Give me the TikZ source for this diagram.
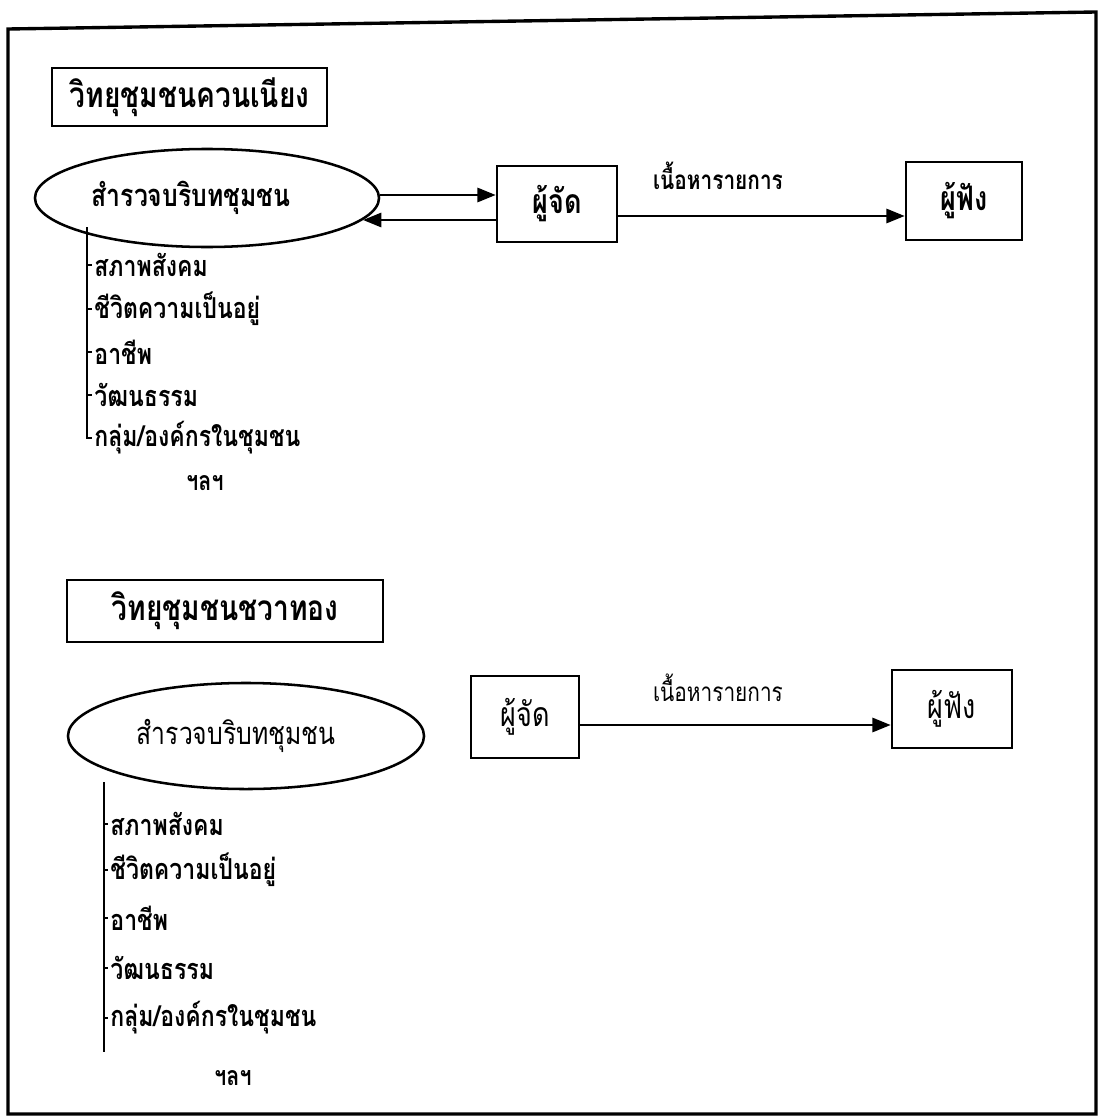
\documentclass[tikz,border=0pt]{standalone}
\usepackage{fontspec}
\setmainfont[Script=Thai, FakeStretch=0.8]{Loma}
\usetikzlibrary{shapes.geometric,arrows.meta}
\begin{document}
\begin{tikzpicture}[x=0.025cm,y=-0.025cm,
  frame/.style={line width=2.4pt},
  tbox/.style={draw, line width=1.9pt, inner sep=0pt, font=\fontsize{25}{30}\selectfont\bfseries},
  oval/.style={draw, ellipse, line width=1.8pt, inner sep=0pt},
  pbox/.style={draw, line width=1.8pt, inner sep=0pt},
  arr/.style={line width=1.9pt, -{Triangle[length=13pt,width=10pt]}},
  tree/.style={line width=1.8pt},
  item/.style={anchor=west, inner sep=1.5pt, font=\fontsize{20.5}{24}\selectfont\bfseries},
  lab/.style={inner sep=0pt}
]
\useasboundingbox (0,0) rectangle (1101,1117);
% outer frame
\draw[frame] (8,29) -- (1096,12) -- (1096,1114) -- (8,1114) -- cycle;

% ---------- upper part ----------
\node[tbox, minimum width=6.875cm, minimum height=1.45cm] (T1) at (189.5,97) {วิทยุชุมชนควนเนียง};
\node[oval, minimum width=8.6cm, minimum height=2.45cm, font=\fontsize{22}{26}\selectfont\bfseries] (E1) at (207,198) {สำรวจบริบทชุมชน\hspace*{0.8cm}};
\node[pbox, minimum width=3cm, minimum height=1.9cm, font=\fontsize{24}{28}\selectfont\bfseries] (J1) at (557,204) {ผู้จัด};
\node[pbox, minimum width=2.9cm, minimum height=1.95cm, font=\fontsize{24}{28}\selectfont\bfseries] (L1) at (964,201) {ผู้ฟัง};
\node[lab, font=\fontsize{18.5}{21}\selectfont\bfseries] (C1) at (718,176) {เนื้อหารายการ};
\draw[arr] (E1.east) ++(0,-3) coordinate (e1a) -- (e1a -| J1.west);
\coordinate (e1b) at (363,220);
\draw[arr] (J1.west |- e1b) -- (e1b);
\draw[arr] (J1.east) ++(0,12) coordinate (j1a) -- (j1a -| L1.west);

\coordinate (t1) at (87,227);
\node[item] (a1) at (92,265) {สภาพสังคม};
\node[item] (a2) at (92,309) {ชีวิตความเป็นอยู่};
\node[item] (a3) at (92,352) {อาชีพ};
\node[item] (a4) at (92,395) {วัฒนธรรม};
\node[item] (a5) at (92,438) {กลุ่ม/องค์กรในชุมชน};
\node[lab, font=\fontsize{19}{22}\selectfont\bfseries] (e1) at (205,483) {ฯลฯ};
\draw[tree] (t1) |- (a5.west);
\foreach \n in {a1,a2,a3,a4} \draw[tree] (t1 |- \n.west) -- (\n.west);

% ---------- lower part ----------
\node[tbox, minimum width=7.9cm, minimum height=1.55cm] (T2) at (225,611) {วิทยุชุมชนชวาทอง};
\node[oval, minimum width=8.9cm, minimum height=2.65cm, font=\fontsize{22}{25}\selectfont] (E2) at (246,736) {สำรวจบริบทชุมชน\hspace*{0.5cm}};
\node[pbox, minimum width=2.7cm, minimum height=2.05cm, font=\fontsize{24}{28}\selectfont] (J2) at (525,717) {ผู้จัด};
\node[pbox, minimum width=3cm, minimum height=1.95cm, font=\fontsize{24}{28}\selectfont] (L2) at (952,709) {ผู้ฟัง};
\node[lab, font=\fontsize{18.5}{21}\selectfont] (C2) at (718,688) {เนื้อหารายการ};
\draw[arr] (J2.east) ++(0,8) coordinate (j2a) -- (j2a -| L2.west);

\coordinate (t2) at (104,782);
\coordinate (t2b) at (104,1052);
\node[item] (b1) at (108,824) {สภาพสังคม};
\node[item] (b2) at (108,870) {ชีวิตความเป็นอยู่};
\node[item] (b3) at (108,918) {อาชีพ};
\node[item] (b4) at (108,968) {วัฒนธรรม};
\node[item] (b5) at (108,1018) {กลุ่ม/องค์กรในชุมชน};
\node[lab, font=\fontsize{19}{22}\selectfont\bfseries] (e2) at (233,1078) {ฯลฯ};
\draw[tree] (t2) -- (t2b);
\foreach \n in {b1,b2,b3,b4,b5} \draw[tree] (t2 |- \n.west) -- (\n.west);
\end{tikzpicture}
\end{document}
